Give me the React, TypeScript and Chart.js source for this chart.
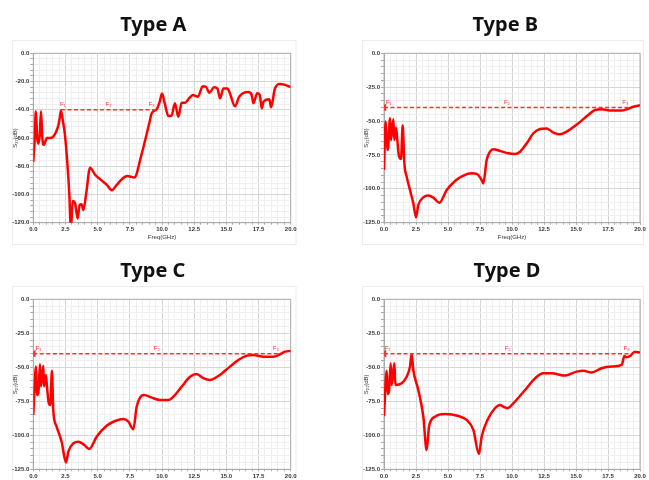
import React, { useEffect, useRef } from 'react';
import { Chart, registerables } from 'chart.js';

Chart.register(...registerables);

// ---------------- DATA ----------------
const panelTitles = ['Type A', 'Type B', 'Type C', 'Type D'];
const markerLabels = ['F\u2081', 'F\u2082', 'F\u2083'];
const xTitle = 'Freq(GHz)';
const yTitle = 'S\u2082\u2081(dB)';
const limitLevel = -40;

const freqA = [0, 0.1, 0.2, 0.3, 0.4, 0.5, 0.6, 0.7, 0.83, 0.95, 1.05, 1.3, 1.55, 1.8, 1.95, 2.05, 2.15, 2.3, 2.45, 2.64, 2.8, 2.92, 3.06, 3.24, 3.45, 3.6, 3.75, 3.89, 4.1, 4.41, 4.8, 5.3, 5.7, 6.1, 6.5, 6.9, 7.3, 7.6, 7.85, 8.4, 9.0, 9.2, 9.6, 9.8, 10.0, 10.2, 10.5, 10.75, 11.0, 11.27, 11.53, 11.8, 12.1, 12.4, 12.8, 13.16, 13.42, 13.68, 14.05, 14.3, 14.51, 14.77, 15.08, 15.28, 15.67, 16.0, 16.7, 16.97, 17.1, 17.4, 17.6, 17.75, 17.9, 18.34, 18.47, 18.78, 19.17, 19.56, 20];
const s21A = [-77, -62, -41, -60, -64, -58, -41, -60, -65, -62, -60, -60, -59, -55, -51, -46, -40.5, -48, -57, -77, -100, -125, -104.6, -106, -117, -107.5, -107, -111, -100, -81, -86, -90, -93, -97, -93, -89, -87, -87.5, -88, -72, -50, -42.5, -39.5, -35, -28.5, -35, -44.5, -44, -35.4, -45, -35, -35, -32, -29.5, -30.7, -23.4, -23.8, -28, -24, -24.8, -32, -25, -25, -28.4, -37.5, -30.8, -27.5, -29.5, -35.4, -28.3, -29.5, -39, -34, -32.6, -38.3, -24.8, -21.7, -22.4, -24];

const freqB = [0, 0.13, 0.26, 0.33, 0.47, 0.55, 0.73, 0.81, 0.94, 1.04, 1.17, 1.33, 1.46, 1.59, 1.77, 2.03, 2.29, 2.5, 2.68, 3.07, 3.46, 3.85, 4.32, 4.9, 5.55, 6.2, 6.85, 7.24, 7.63, 7.76, 8.02, 8.28, 8.54, 9.06, 9.71, 10.23, 10.63, 11.15, 11.67, 12.19, 12.7, 13.23, 13.75, 14.27, 15.18, 15.96, 16.48, 17.0, 17.79, 18.57, 18.96, 19.48, 20];
const s21B = [-86, -50.4, -71.3, -69, -48, -64, -48.7, -64, -55, -64, -76, -78, -53, -81, -91, -100.9, -110.7, -121, -112, -106.3, -105, -106.5, -110.2, -100.9, -94.2, -90.3, -88.6, -89, -93.5, -96, -78.7, -72.6, -70.8, -72, -73.8, -74.3, -72.6, -66.4, -59, -55.8, -55.4, -58.5, -59.8, -57.8, -51.7, -45.5, -41.8, -41.3, -42.3, -42.3, -41.3, -39.4, -38.4];

const freqC = [0, 0.21, 0.28, 0.39, 0.52, 0.6, 0.78, 0.83, 0.98, 1.06, 1.22, 1.32, 1.45, 1.55, 1.81, 2.2, 2.54, 2.72, 3.11, 3.5, 3.94, 4.35, 4.92, 5.7, 6.35, 7.0, 7.39, 7.77, 8.03, 8.29, 8.6, 9.2, 9.84, 10.49, 10.88, 11.53, 12.18, 12.69, 13.21, 13.73, 14.38, 15.28, 15.93, 16.58, 17.1, 17.88, 18.65, 19.17, 19.56, 20];
const s21C = [-85, -49.5, -70.3, -69, -47.8, -64, -48.8, -64, -55.6, -64, -77, -77.7, -52.5, -81.4, -93.6, -104.7, -120, -112, -105.9, -104.7, -107, -110, -101, -93, -89.5, -88, -90, -95.6, -79, -72.3, -70.3, -72.3, -74, -74, -71.6, -64.2, -56.9, -54.9, -58, -59.3, -56.4, -49.5, -44.6, -41.4, -40.9, -42.2, -42.2, -40.4, -38.5, -38];

const freqD = [0, 0.21, 0.29, 0.4, 0.52, 0.6, 0.81, 0.89, 1.38, 1.77, 2.03, 2.16, 2.29, 2.68, 3.07, 3.33, 3.52, 3.98, 4.77, 5.81, 6.46, 6.98, 7.42, 7.63, 8.15, 8.67, 9.06, 9.32, 9.66, 10.1, 11.02, 11.8, 12.45, 13.1, 14.14, 15.05, 15.57, 16.22, 17.0, 17.79, 18.57, 18.78, 18.96, 19.22, 19.6, 20];
const s21D = [-86, -52.5, -69.6, -66.7, -47, -63, -47, -63, -61.8, -56.9, -49.5, -40.2, -52, -66.7, -86, -110.8, -93.6, -86.3, -84.3, -85.8, -88.7, -96, -113.7, -101, -87.5, -80.1, -77.7, -78.9, -80.1, -76.5, -66.7, -58.1, -54.4, -54.4, -56.1, -53.2, -52.5, -53.9, -50.7, -49.5, -48.3, -41.7, -42.6, -41.7, -38.5, -39.2];

// limit line start / end and marker-label frequencies
const limitA = [2.15, 9.6];
const limitB = [0, 19.1];
const limitC = [0, 19.05];
const limitD = [0, 19.1];
const markersA = [2.3, 5.85, 9.2];
const markersB = [0.35, 9.6, 18.85];
const markersC = [0.4, 9.6, 18.85];
const markersD = [0.28, 9.66, 18.95];

const yMinA = -120, yStepA = 20;
const yMinB = -125, yStepB = 25;

// ---------------- LAYOUT ----------------
type Panel = {
  title: string;
  freq: number[];
  vals: number[];
  limit: number[];
  markers: number[];
  yMin: number;
  yStep: number;
  arrow: boolean;
  showXTitle: boolean;
  box: { left: number; top: number; width: number; height: number };
  area: { l: number; r: number; t: number; b: number };
  yTitleX: number;
  titlePos: [number, number];
  frame: [number, number, number, number];
};

const panels: Panel[] = [
  {
    title: panelTitles[0], freq: freqA, vals: s21A, limit: limitA, markers: markersA,
    yMin: yMinA, yStep: yStepA, arrow: false, showXTitle: true,
    box: { left: 0, top: 0, width: 324, height: 245 },
    area: { l: 33.3, r: 290.7, t: 53.3, b: 222.7 }, yTitleX: 15,
    titlePos: [153.3, 31], frame: [12.5, 40.5, 283.5, 204],
  },
  {
    title: panelTitles[1], freq: freqB, vals: s21B, limit: limitB, markers: markersB,
    yMin: yMinB, yStep: yStepB, arrow: true, showXTitle: true,
    box: { left: 325, top: 0, width: 324, height: 245 },
    area: { l: 59, r: 315, t: 53.3, b: 222.7 }, yTitleX: 41.7,
    titlePos: [180.3, 31], frame: [37.5, 40.5, 281, 204],
  },
  {
    title: panelTitles[2], freq: freqC, vals: s21C, limit: limitC, markers: markersC,
    yMin: yMinB, yStep: yStepB, arrow: true, showXTitle: false,
    box: { left: 0, top: 245, width: 324, height: 235 },
    area: { l: 33.3, r: 290.7, t: 54.3, b: 224.3 }, yTitleX: 15,
    titlePos: [152.8, 32.3], frame: [12.5, 41.5, 283.5, 200],
  },
  {
    title: panelTitles[3], freq: freqD, vals: s21D, limit: limitD, markers: markersD,
    yMin: yMinB, yStep: yStepB, arrow: true, showXTitle: false,
    box: { left: 325, top: 245, width: 324, height: 235 },
    area: { l: 59, r: 315, t: 54.3, b: 224.3 }, yTitleX: 41.7,
    titlePos: [182, 32.3], frame: [37.5, 41.5, 281, 200],
  },
];

const near = (v: number, step: number) => Math.abs(v / step - Math.round(v / step)) < 1e-6;

const decorPlugin = {
  id: 'decor',
  beforeDraw(chart: any, _a: any, opts: any) {
    const ctx = chart.ctx;
    ctx.save();
    ctx.fillStyle = '#ffffff';
    ctx.fillRect(0, 0, chart.width, chart.height);
    ctx.strokeStyle = '#ececec';
    ctx.lineWidth = 1;
    const f = opts.frame;
    ctx.strokeRect(f[0], f[1], f[2], f[3]);
    ctx.restore();
  },
  beforeDatasetsDraw(chart: any) {
    const { ctx, chartArea } = chart;
    ctx.save();
    ctx.strokeStyle = '#b0b0b0';
    ctx.lineWidth = 1;
    ctx.strokeRect(chartArea.left, chartArea.top, chartArea.right - chartArea.left, chartArea.bottom - chartArea.top);
    ctx.restore();
  },
  afterDraw(chart: any, _a: any, opts: any) {
    const ctx = chart.ctx;
    ctx.save();
    ctx.font = 'bold 20px "Noto Sans", "Noto Sans CJK KR", sans-serif';
    ctx.fillStyle = '#111111';
    ctx.textAlign = 'center';
    ctx.textBaseline = 'alphabetic';
    ctx.fillText(opts.title, opts.titlePos[0], opts.titlePos[1]);
    const xs = chart.scales.x;
    const ys = chart.scales.y;
    ctx.font = '6px "Liberation Sans", sans-serif';
    ctx.fillStyle = '#ff3030';
    ctx.textBaseline = 'bottom';
    const yPix = ys.getPixelForValue(opts.level) - 2;
    opts.markers.forEach((m: number, i: number) => {
      ctx.fillText(markerLabels[i], xs.getPixelForValue(m), yPix);
    });
    ctx.restore();
  },
};

function PanelChart({ p }: { p: Panel }) {
  const ref = useRef<HTMLCanvasElement | null>(null);
  useEffect(() => {
    if (!ref.current) return;
    const tickFont = { family: '"Liberation Sans", Arial, sans-serif', size: 6, weight: 'bold' as const };
    const yTitleFontSize = 6;
    const yTitlePad = 1;
    const padLeft = p.yTitleX - (yTitleFontSize * 1.2) / 2 - yTitlePad;
    const xHeight = p.showXTitle ? 19 : 9;
    const padBottom = Math.max(0, p.box.height - p.area.b - xHeight);
    const curve = p.freq.map((f, i) => ({ x: f, y: p.vals[i] }));
    const limitLine = p.limit.map((f) => ({ x: f, y: limitLevel }));
    const chart = new Chart(ref.current, {
      type: 'line',
      data: {
        datasets: [
          {
            data: curve,
            borderColor: '#ff0000',
            borderWidth: 2.5,
            pointRadius: 0,
            cubicInterpolationMode: 'monotone',
            fill: false,
            order: 1,
          },
          {
            data: limitLine,
            borderColor: '#ff3030',
            backgroundColor: '#ff3030',
            borderWidth: 1.5,
            borderDash: [4, 2.5],
            pointRadius: p.arrow ? [3, 0] : 0,
            pointStyle: 'triangle',
            rotation: -90,
            fill: false,
            order: 0,
          },
        ],
      } as any,
      options: {
        animation: false,
        responsive: false,
        devicePixelRatio: 1,
        events: [],
        layout: {
          padding: {
            left: padLeft,
            right: p.box.width - p.area.r,
            top: p.area.t,
            bottom: padBottom,
          },
        },
        plugins: {
          legend: { display: false },
          title: { display: false },
          tooltip: { enabled: false },
          decor: { title: p.title, titlePos: p.titlePos, frame: p.frame, markers: p.markers, level: limitLevel },
        } as any,
        scales: {
          x: {
            type: 'linear',
            min: 0,
            max: 20,
            afterFit: (s: any) => { s.height = xHeight; },
            border: { display: true, color: '#a0a0a0' },
            grid: {
              color: (c: any) => (c.tick && near(c.tick.value, 2.5) ? '#d6d6d6' : '#efefef'),
              tickLength: 2,
              tickColor: '#a8a8a8',
            },
            ticks: {
              stepSize: 0.5,
              autoSkip: false,
              maxRotation: 0,
              minRotation: 0,
              padding: 1,
              color: '#333333',
              font: tickFont,
              callback: (v: any) => (near(Number(v), 2.5) ? Number(v).toFixed(1) : ''),
            },
            title: {
              display: p.showXTitle,
              text: xTitle,
              color: '#333333',
              font: { family: '"Liberation Sans", Arial, sans-serif', size: 6 },
              padding: { top: 0, bottom: 1 },
            },
          },
          y: {
            type: 'linear',
            min: p.yMin,
            max: 0,
            afterFit: (s: any) => { s.width = p.area.l - padLeft; },
            border: { display: true, color: '#a0a0a0' },
            grid: {
              color: (c: any) => (c.tick && near(c.tick.value, p.yStep) ? '#d6d6d6' : '#efefef'),
              tickLength: 3,
              tickColor: '#a8a8a8',
            },
            ticks: {
              stepSize: p.yStep / 5,
              autoSkip: false,
              padding: 1,
              color: '#333333',
              font: tickFont,
              callback: (v: any) => (near(Number(v), p.yStep) ? Number(v).toFixed(1) : ''),
            },
            title: {
              display: true,
              text: yTitle,
              color: '#333333',
              font: { family: '"Liberation Sans", Arial, sans-serif', size: yTitleFontSize },
              padding: { top: yTitlePad, bottom: 0 },
            },
          },
        },
      } as any,
      plugins: [decorPlugin as any],
    });
    return () => chart.destroy();
  }, [p]);
  return (
    <canvas
      ref={ref}
      width={p.box.width}
      height={p.box.height}
      style={{
        position: 'absolute',
        left: p.box.left,
        top: p.box.top,
        width: p.box.width,
        height: p.box.height,
      }}
    />
  );
}

export default function App() {
  return (
    <div style={{ position: 'absolute', left: 0, top: 0, width: 649, height: 480, background: '#ffffff', overflow: 'hidden' }}>
      {panels.map((p, i) => (
        <PanelChart key={i} p={p} />
      ))}
    </div>
  );
}
